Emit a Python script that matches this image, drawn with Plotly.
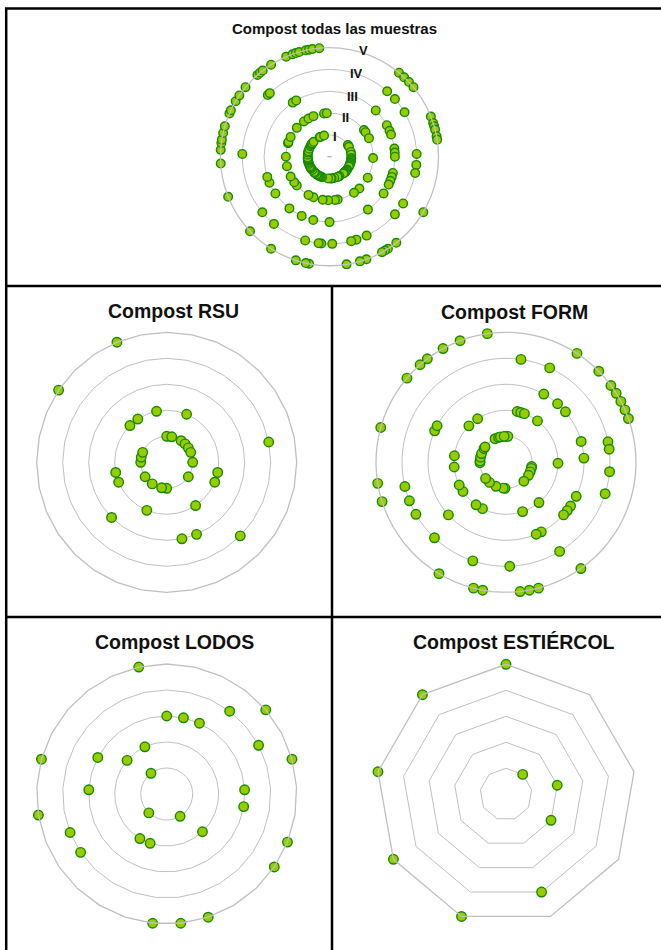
import plotly.graph_objects as go

W, H = 661, 950

# Class (I..V -> 1..5) of each sample, in the order the samples go round each radar.
rsu = [1, 1, 2, 1, 1, 1, 1, 4, 1, 2, 2, 1, 4, 2, 3, 3,
       1, 1, 2, 1, 3, 1, 2, 2, 1, 1, 1, 5, 2, 2, 5, 2]

form = [1, 1, 4, 2, 2, 2, 4, 3, 5, 2, 3, 5, 3, 5, 5, 5, 5, 5, 3, 4,
        4, 3, 2, 4, 1, 1, 4, 1, 3, 1, 3, 3, 3, 1, 2, 5, 4, 3, 3, 2,
        5, 5, 5, 4, 1, 1, 5, 5, 4, 1, 2, 5, 2, 1, 4, 3, 1, 2, 4, 2,
        4, 5, 4, 5, 2, 1, 1, 2, 1, 5, 1, 3, 3, 1, 1, 5, 2, 5, 5, 2,
        5, 1, 5, 1, 1, 5, 1]

lodos = [3, 3, 3, 4, 5, 4, 5, 3, 3, 5, 5, 2, 1, 5, 5, 5, 2, 2, 1, 4,
         4, 5, 3, 5, 3, 2, 1, 2, 5]

estiercol = [5, 1, 2, 2, 4, 5, 5, 5, 5]

N = None
todas = ([N] * 22 +
         [5, 4, 5, 3, 5, 4, 5, 2, N, 2, 1, 4, 3, 1, 2, 3, 5, 3,          # 22-39
          5, 5, 5, 1, 5, 5, 3, 1, 3, 4, 3, 2, 1, 4, 1, 1, 4, 1, 3, 1,    # 40-59
          3, 1, 3, 1, 3, 1, 2, 5, 4, 3, 1, 1, 1, 4, 1, 1, 2, 1, 1, 5,    # 60-79
          3, 2, 5, 5, 5, 1, 4, 1, 1, 5, 4, 5, 4, 1, 2, 5, 2, 1, 1, 4,    # 80-99
          3, 2, 1, 4, 4, 2, 5, 5, 3, 4, 5, 1, 2, 1, 3, 1, 2, 1, 5, 1,    # 100-119
          1, 3, 4, 1, 1, 1, 5, 2, 4, 1, 2, 3, 1, 1, 1, 2, 1, 3, 5, 1,    # 120-139
          3, 1, 1, 2, 1, 1, 1, 1, 5, 1, 2, 4, 5, 1, 5, 5, 1, 5, 1, 5,    # 140-159
          2, 2, 1, 5, 5, 2, 1, 5, 1, 5, 1, 1, 5, 2, 1, 4, 4, 5, 5, 5,    # 160-179
          2, 3, 5, 3, 2, 1, 1, 5, 2, 5, 5, 5, 1, 5, 5, 5, 2, 5, 2, N])   # 180-199

class_labels = ["I", "II", "III", "IV", "V"]

titles = ["Compost todas las muestras", "Compost RSU", "Compost FORM",
          "Compost LODOS", "Compost ESTIÉRCOL"]

FILL = "#99cc00"
EDGE = "#178a00"
GRID = "#c0c0c0"


def px_x(x):
    return x / W


def px_y(y):
    return 1 - y / H


# name, values, centre (px), outer radius (px), grid shape, marker size
panels = [
    ("polar", todas, (329.5, 156.7), 109, "circular", 8.6),
    ("polar2", rsu, (166.7, 462.3), 130, "linear", 9.5),
    ("polar3", form, (506.0, 462.3), 130, "linear", 9.5),
    ("polar4", lodos, (166.7, 794.0), 130, "linear", 9.5),
    ("polar5", estiercol, (506.0, 794.3), 130, "linear", 9.5),
]

fig = go.Figure()
layout = {}
for name, values, (cx, cy), rad, shape, msize in panels:
    cats = [f"M{i + 1}" for i in range(len(values))]
    fig.add_trace(go.Scatterpolar(
        r=values, theta=cats, subplot=name, mode="markers",
        cliponaxis=False, showlegend=False, hoverinfo="r+theta",
        marker=dict(size=msize, color=FILL, line=dict(color=EDGE, width=1.4)),
    ))
    # small tick at the origin of the radial scale
    fig.add_trace(go.Scatterpolar(
        r=[0], theta=[cats[0]], subplot=name, mode="markers",
        showlegend=False, hoverinfo="skip", cliponaxis=False,
        marker=dict(symbol="line-ew", size=3, line=dict(color="#9a9a9a", width=1)),
    ))
    layout[name] = dict(
        domain=dict(x=[px_x(cx - rad), px_x(cx + rad)],
                    y=[px_y(cy + rad), px_y(cy - rad)]),
        bgcolor="rgba(0,0,0,0)",
        gridshape=shape,
        radialaxis=dict(range=[0, 5], tickvals=[1, 2, 3, 4],
                        showticklabels=False, ticks="", showline=False,
                        gridcolor=GRID, gridwidth=1.3),
        angularaxis=dict(type="category", categoryorder="array",
                         categoryarray=cats, rotation=90,
                         direction="clockwise", showgrid=False,
                         showticklabels=False, ticks="", showline=True,
                         linecolor=GRID, linewidth=1.3),
    )

annotations = []
title_pos = [(334.8, 28.7, 15), (173.8, 311, 19.5), (514.5, 311.5, 19.5),
             (175.0, 641.5, 19.5), (514.2, 641.5, 19.5)]
for text, (x, y, size) in zip(titles, title_pos):
    annotations.append(dict(
        text=text, x=px_x(x), y=px_y(y), xref="paper", yref="paper",
        xanchor="center", yanchor="middle", showarrow=False,
        font=dict(family="Liberation Sans, Arial, sans-serif", size=size,
                  color="#111111", weight="bold")))

# class labels along the first axis of the combined radar
label_pos = [(335.0, 136.5), (345.0, 117.0), (352.7, 96.0), (356.7, 73.5), (363.3, 50.5)]
for text, (x, y) in zip(class_labels, label_pos):
    annotations.append(dict(
        text=text, x=px_x(x), y=px_y(y), xref="paper", yref="paper",
        xanchor="center", yanchor="middle", showarrow=False,
        font=dict(family="Liberation Sans, Arial, sans-serif", size=13,
                  color="#111111", weight="bold")))

# panel frame
frame = dict(color="black", width=2.5)
shapes = [
    dict(type="rect", xref="paper", yref="paper", x0=px_x(6.2), x1=px_x(663),
         y0=px_y(953), y1=px_y(8.6), line=frame),
    dict(type="line", xref="paper", yref="paper", x0=px_x(6.2), x1=px_x(663),
         y0=px_y(286), y1=px_y(286), line=frame),
    dict(type="line", xref="paper", yref="paper", x0=px_x(6.2), x1=px_x(663),
         y0=px_y(617), y1=px_y(617), line=frame),
    dict(type="line", xref="paper", yref="paper", x0=px_x(332), x1=px_x(332),
         y0=px_y(286), y1=px_y(953), line=frame),
]

fig.update_layout(
    width=W, height=H, margin=dict(l=0, r=0, t=0, b=0),
    paper_bgcolor="white", plot_bgcolor="white",
    annotations=annotations, shapes=shapes, **layout,
)

fig.write_html("out.html")
